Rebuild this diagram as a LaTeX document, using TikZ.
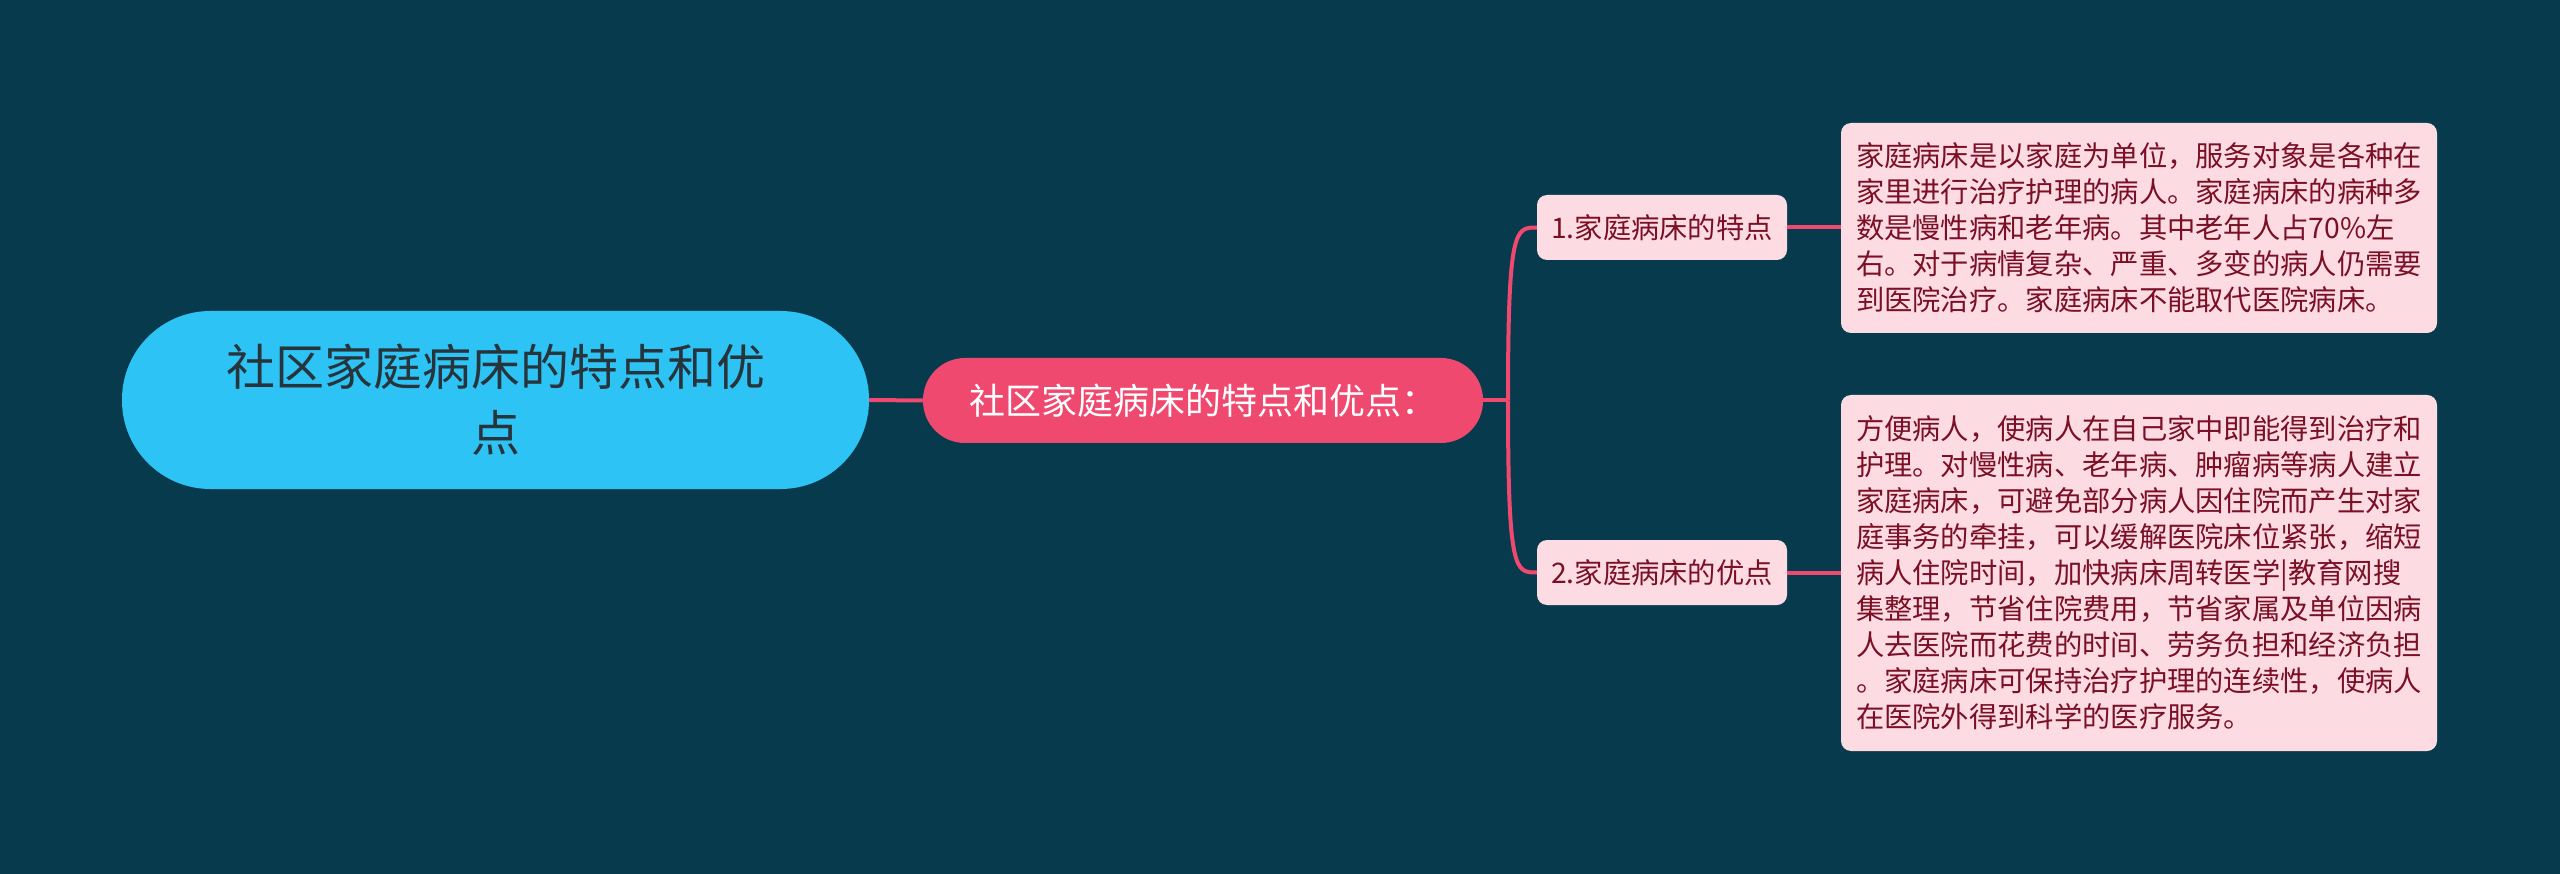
\documentclass[tikz,border=0pt]{standalone}
\usepackage{fontspec}
\setmainfont{Noto Sans CJK SC}
\usetikzlibrary{calc}
\definecolor{bgc}{HTML}{073A4C}
\definecolor{pinkc}{HTML}{F0496F}
\definecolor{lightc}{HTML}{FCDCE2}
\definecolor{leaftxt}{HTML}{7B0F25}
\definecolor{rootc}{HTML}{2EC3F5}
\definecolor{roottxt}{HTML}{27343B}
\tikzset{
  rootbox/.style={rectangle, fill=rootc, text=roottxt, inner sep=0pt,
    minimum width=747pt, minimum height=178pt, rounded corners=88.5pt,
    align=center, font=\fontsize{49}{66}\selectfont},
  midbox/.style={rectangle, fill=pinkc, text=white, inner sep=0pt,
    minimum width=560pt, minimum height=85pt, rounded corners=42pt,
    font=\fontsize{36}{42}\selectfont},
  childbox/.style={rectangle, fill=lightc, text=leaftxt, inner sep=0pt,
    minimum width=250pt, minimum height=65pt, rounded corners=10pt,
    font=\fontsize{28.3}{34}\selectfont},
  leafbox/.style={rectangle, fill=lightc, text=leaftxt, inner sep=0pt,
    minimum width=596pt, rounded corners=10pt, align=left,
    font=\fontsize{28.3}{36}\selectfont},
  conn/.style={draw=pinkc, line width=4pt}
}
\begin{document}
\begin{tikzpicture}[x=1pt,y=-1pt]
\fill[bgc] (0,0) rectangle (2560,874);
\useasboundingbox (0,0) rectangle (2560,874);

\node[rootbox] (root) at (495.5,400) {社区家庭病床的特点和优\\点};
\node[midbox] (mid) at (1203,400.5) {社区家庭病床的特点和优点：};
\node[childbox] (c1) at (1662,227.5) {1.家庭病床的特点};
\node[childbox] (c2) at (1662,572.5) {2.家庭病床的优点};
\node[leafbox, minimum height=210pt] (l1) at (2139,228) {家庭病床是以家庭为单位，服务对象是各种在\\家里进行治疗护理的病人。家庭病床的病种多\\数是慢性病和老年病。其中老年人占70\%左\\右。对于病情复杂、严重、多变的病人仍需要\\到医院治疗。家庭病床不能取代医院病床。};
\node[leafbox, minimum height=356pt] (l2) at (2139,573) {方便病人，使病人在自己家中即能得到治疗和\\护理。对慢性病、老年病、肿瘤病等病人建立\\家庭病床，可避免部分病人因住院而产生对家\\庭事务的牵挂，可以缓解医院床位紧张，缩短\\病人住院时间，加快病床周转医学|教育网搜\\集整理，节省住院费用，节省家属及单位因病\\人去医院而花费的时间、劳务负担和经济负担\\。家庭病床可保持治疗护理的连续性，使病人\\在医院外得到科学的医疗服务。};

\coordinate (fork) at (1508,400.5);
\draw[conn] (root.east) -- (mid.west);
\draw[conn] (mid.east) -- (fork);
\draw[conn] (fork) .. controls (fork |- c1.west) and ($(fork |- c1.west)+(7,0)$) .. (c1.west);
\draw[conn] (fork) .. controls (fork |- c2.west) and ($(fork |- c2.west)+(7,0)$) .. (c2.west);
\draw[conn] (c1.east) -- (c1.east -| l1.west);
\draw[conn] (c2.east) -- (c2.east -| l2.west);
\end{tikzpicture}
\end{document}
